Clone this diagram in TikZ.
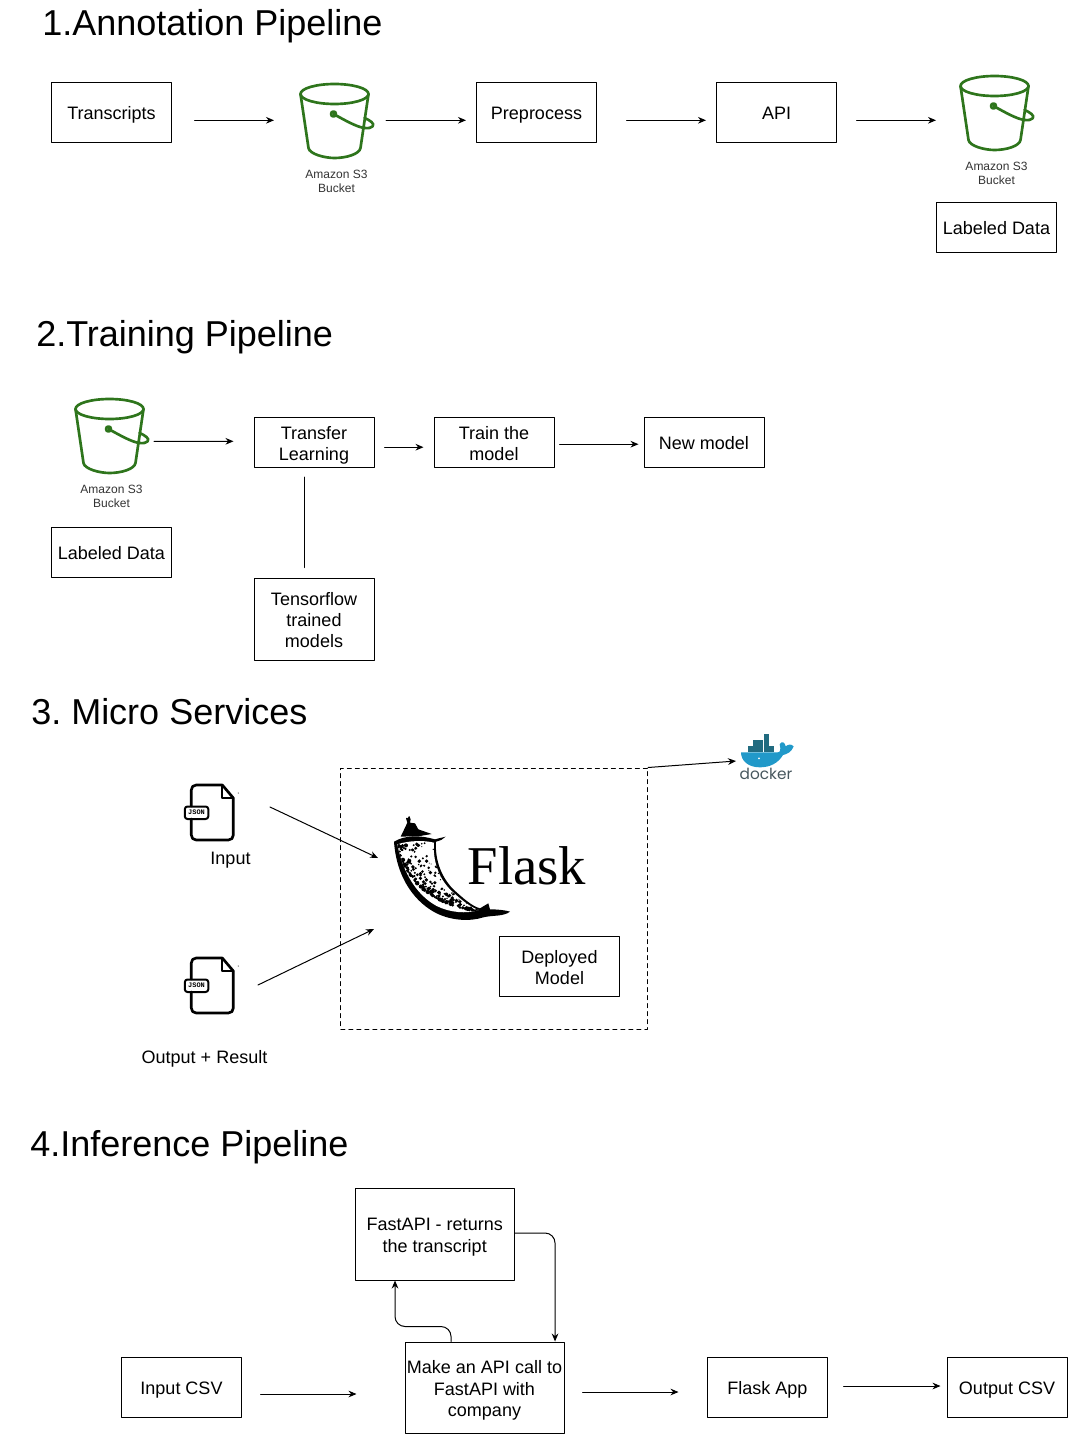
\documentclass[tikz,border=0pt]{standalone}
\usepackage{fontspec}
\setmainfont{Liberation Sans}
\newfontfamily\flaskfont{Liberation Serif}
\newfontfamily\jsonfont{Liberation Mono}
\newfontfamily\dockerfont{Poppins}
\usetikzlibrary{calc}
\usetikzlibrary{arrows.meta}
\definecolor{bucketgreen}{rgb}{0.18,0.46,0.11}
\definecolor{whaleblue}{rgb}{0.13,0.60,0.79}
\definecolor{cratedark}{rgb}{0.13,0.42,0.50}
\definecolor{dockertext}{rgb}{0.28,0.34,0.37}
\tikzset{
    box/.style={draw,line width=0.75pt,align=center,inner sep=0pt,execute at begin node={\rule{0pt}{13.8pt}},execute at end node={\rule[-3pt]{0pt}{3pt}},font=\fontsize{13.5}{16}\selectfont},
    boxm/.style={box,execute at begin node={\rule{0pt}{#1}}},
    boxm/.default=30.4pt,
    title/.style={anchor=west,inner sep=0pt,font=\frenchspacing\fontsize{27}{32}\selectfont},
    s3label/.style={align=center,inner sep=0pt,text=black!80,font=\fontsize{9}{10.3}\selectfont},
    caption/.style={inner sep=0pt,font=\fontsize{13.5}{16}\selectfont},
    flow/.style={->,line width=0.75pt},
    pics/bucket/.style={code={
        \draw [line width=2pt,color=bucketgreen] (0,0) ellipse (34 and 10);
        \draw [line width=2pt,color=bucketgreen,line join=round] (-34,0)-- (-26,54) .. controls (-25,60) and (-10,64) .. (0,64) .. controls (12,64) and (25,60) .. (26,54)-- (34,0);
        \draw [line width=2pt,color=bucketgreen,fill=white] (-1,20) circle (2.5);
        \draw [line width=2pt,color=bucketgreen] (-1,20) .. controls (10,26) and (22,33) .. (30,34) .. controls (38,35) and (41,31) .. (37,28) .. controls (35,26) and (32,25) .. (30,24);
    }},
    pics/jsonfile/.style={code={
        \draw [line width=2pt,line join=round] (7,21)-- (7,5) .. controls (7,2) and (9,0) .. (12,0)-- (38,0)-- (49,13)-- (49,50) .. controls (49,53) and (47,55) .. (44,55)-- (12,55) .. controls (9,55) and (7,53) .. (7,50)-- (7,34);
        \draw [line width=1.5pt,line join=round] (38,0)-- (38,13)-- (49,13);
        \draw [line width=1.5pt,rounded corners=2pt] (0.5,21.5) rectangle (24,34);
        \node [inner sep=0pt,font=\jsonfont\bfseries\fontsize{5.2}{6}\selectfont] at (12.2,27.7) {JSON};
        \fill [black!60] (54,8) circle (0.7);
    }}
}

\begin{document}
\begin{tikzpicture}[line cap=round,line join=round,>={Stealth[length=6pt,width=5pt]},x=0.75pt,y=-0.75pt]
    \useasboundingbox (0,0) rectangle (1068,1434);

    \node [title] (titleA) at (42,26) {1.Annotation Pipeline};
    \node [title] (titleB) at (36,337) {2.Training Pipeline};
    \node [title] (titleC) at (31,712) {3. Micro Services};
    \node [title] (titleD) at (30,1147) {4.Inference Pipeline};

    \node [box,minimum width=90pt,minimum height=45pt] (transcripts) at (111.5,112.3) {Transcripts};
    \node [box,minimum width=90pt,minimum height=45pt] (preprocess) at (536.5,112.3) {Preprocess};
    \node [box,minimum width=90pt,minimum height=45pt] (api) at (776.5,112.3) {API};
    \node [box,minimum width=90pt,minimum height=37.5pt] (labeledA) at (996.5,227.3) {Labeled Data};
    \path (334.5,94) pic {bucket};
    \coordinate (bucketA) at (334,120.3);
    \node [s3label] (s3A) at (336.5,181.3) {Amazon S3\\Bucket};
    \path (994.5,86) pic {bucket};
    \coordinate (bucketB) at (994,120.3);
    \node [s3label] (s3B) at (996.5,173.3) {Amazon S3\\Bucket};

    \draw [flow] ([shift={(22.5,8)}]transcripts.east)-- ([xshift=-45pt]bucketA);
    \draw [flow] ([xshift=39pt]bucketA)-- ([shift={(-10,8)}]preprocess.west);
    \draw [flow] ([shift={(29.5,8)}]preprocess.east)-- ([shift={(-10,8)}]api.west);
    \draw [flow] ([shift={(19.5,8)}]api.east)-- ([xshift=-43.5pt]bucketB);

    \node [boxm,minimum width=90pt,minimum height=37.5pt] (transfer) at (314,442.5) {Transfer\\Learning};
    \node [boxm,minimum width=90pt,minimum height=37.5pt] (train) at (494,442.5) {Train the\\model};
    \node [box,minimum width=90pt,minimum height=37.5pt] (newmodel) at (704,442.5) {New model};
    \node [box,minimum width=90pt,minimum height=37.5pt] (labeledB) at (111.5,552.5) {Labeled Data};
    \node [boxm=46.4pt,minimum width=90pt,minimum height=61.5pt] (tensorflow) at (314,619) {Tensorflow\\trained\\models};
    \path (109.5,409) pic {bucket};
    \coordinate (bucketC) at (109,441.3);
    \node [s3label] (s3C) at (111.5,496) {Amazon S3\\Bucket};

    \draw [flow] ([xshift=33.75pt]bucketC)-- ([shift={(-20,-1.2)}]transfer.west);
    \draw [flow] ([shift={(10,4.7)}]transfer.east)-- ([shift={(-10,4.7)}]train.west);
    \draw [flow] ([shift={(5,1.7)}]train.east)-- ([shift={(-5,1.7)}]newmodel.west);
    \draw [line width=0.75pt] ([shift={(-10,9)}]transfer.south)-- ([shift={(-10,-10)}]tensorflow.north);

    \node [draw,dashed,line width=0.75pt,minimum width=230pt,minimum height=195.75pt,inner sep=0pt] (flaskframe) at (494.25,898.5) {};
    \node [inner sep=0pt,font=\flaskfont\fontsize{41}{41}\selectfont] (flasklogo) at (527,866) {Flask};
    \node [boxm,minimum width=90pt,minimum height=45pt] (deployed) at (559.5,966.7) {Deployed\\Model};
    \path (184.3,785) pic {jsonfile};
    \coordinate (jsonA) at (210,813);
    \node [caption] (input) at (230.5,860) {Input};
    \path (184.3,958) pic {jsonfile};
    \coordinate (jsonB) at (210,986);
    \node [caption] (output) at (204.5,1059) {Output + Result};
    \coordinate (hornA) at (378,858);
    \coordinate (hornB) at (374,929);
    \coordinate (dockerwhale) at (736,761);

    \begin{scope}[shift={(380,800)},x=0.25pt,y=-0.25pt]
        \fill [black] (42,125) .. controls (75,105) and (120,105) .. (165,118) .. controls (175,115) and (190,112) .. (197,110) .. controls (190,118) and (180,122) .. (168,125) .. controls (165,170) and (178,225) .. (220,268) .. controls (250,295) and (275,318) .. (300,325) -- (325,310) -- (330,328) .. controls (350,328) and (375,330) .. (390,335) .. controls (370,350) and (340,345) .. (310,352) .. controls (270,365) and (215,362) .. (170,340) .. controls (110,310) and (50,240) .. (42,125) -- cycle;
        \fill [black] (62,110) -- (74,85) -- (82,68) -- (78,55) -- (88,48) -- (92,58) -- (90,68) -- (105,70) -- (115,88) -- (155,102) -- (120,108) -- cycle;
        \fill [white] (82,50) circle (4);
        \begin{scope}
            \clip (52,133) .. controls (85,122) and (130,120) .. (162,128) .. controls (158,175) and (172,232) .. (214,272) .. controls (240,296) and (268,320) .. (296,330) .. controls (260,342) and (210,338) .. (170,318) .. controls (115,288) and (70,225) .. (52,133) -- cycle;
            \fill [white] (40,110) rectangle (310,350);
            \pgfmathsetseed{11}
            \foreach \i in {1,...,230}{
                \pgfmathsetmacro{\spots}{rnd}
                \pgfmathsetmacro{\spott}{pow(rnd,2.2)}
                \pgfmathsetmacro{\spotlx}{(1-\spots)^2*52+2*\spots*(1-\spots)*85+\spots^2*296}
                \pgfmathsetmacro{\spotly}{(1-\spots)^2*133+2*\spots*(1-\spots)*300+\spots^2*335}
                \pgfmathsetmacro{\spotrx}{(1-\spots)^2*162+2*\spots*(1-\spots)*165+\spots^2*296}
                \pgfmathsetmacro{\spotry}{(1-\spots)^2*128+2*\spots*(1-\spots)*265+\spots^2*330}
                \pgfmathsetmacro{\spotr}{1.2+rnd*4+(1-\spott)*1.5}
                \fill [black] ({\spotlx+\spott*(\spotrx-\spotlx)},{\spotly+\spott*(\spotry-\spotly)}) circle (\spotr);
            }
        \end{scope}
    \end{scope}

    \draw [flow] ([shift={(60,-6)}]jsonA)-- (hornA);
    \draw [flow] ([shift={(48,-1)}]jsonB)-- (hornB);
    \draw [flow] (flaskframe.north east)-- (dockerwhale);

    \begin{scope}[shift={(725,725)},x=0.25pt,y=-0.25pt]
        \foreach \cratex/\cratey in {68/63,84/63,100/63,116/63,132/63,84/45,100/45,116/45,116/27}
            \fill [cratedark] (\cratex,\cratey) rectangle ++(15,17);
        \fill [whaleblue] (48,82) -- (158,82) .. controls (166,82) and (168,74) .. (164,58) .. controls (170,46) and (180,52) .. (182,64) .. controls (190,58) and (198,56) .. (206,64) .. controls (200,82) and (184,88) .. (174,90) .. controls (160,114) and (135,127) .. (105,127) .. controls (70,127) and (48,108) .. (48,82) -- cycle;
        \fill [white] (102,100) circle (3);
    \end{scope}
    \node [inner sep=0pt,text=dockertext,font=\dockerfont\fontsize{11.5}{12}\selectfont] (dockerlogo) at (766,773.5) {docker};

    \node [boxm,minimum width=119.25pt,minimum height=69pt] (fastapi) at (434.75,1234) {FastAPI - returns\\the transcript};
    \node [boxm=46.4pt,minimum width=119.25pt,minimum height=68.25pt] (apicall) at (484.5,1387.5) {Make an API call to\\FastAPI with\\company};
    \node [box,minimum width=90pt,minimum height=45pt] (inputcsv) at (181.5,1387.5) {Input CSV};
    \node [box,minimum width=90pt,minimum height=45pt] (flaskapp) at (767.5,1387.5) {Flask App};
    \node [box,minimum width=90pt,minimum height=45pt] (outputcsv) at (1007,1387.5) {Output CSV};

    \draw [flow] ([shift={(18.5,6.5)}]inputcsv.east)-- ([shift={(-48,6.5)}]apicall.west);
    \draw [flow] ([shift={(18,4.5)}]apicall.east)-- ([shift={(-28.5,4.5)}]flaskapp.west);
    \draw [flow] ([shift={(15.5,-1.5)}]flaskapp.east)-- ([shift={(-6,-1.5)}]outputcsv.west);
    \draw [flow,rounded corners=7.5pt] ([yshift=0.75pt]fastapi.east) -| ([xshift=52.9pt]apicall.north);
    \draw [flow,rounded corners=7.5pt] ([xshift=-25.1pt]apicall.north) -- ++(0,-15) -| ([xshift=-29.8pt]fastapi.south);
\end{tikzpicture}
\end{document}
